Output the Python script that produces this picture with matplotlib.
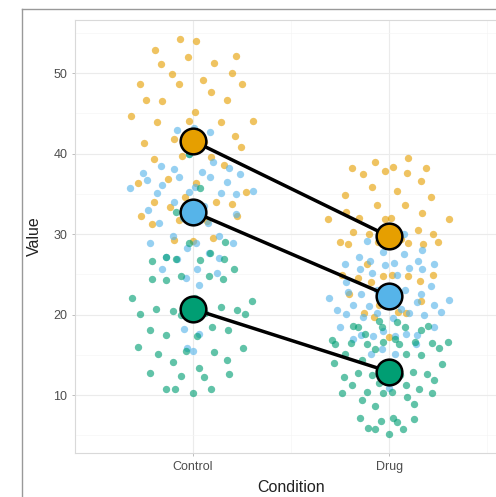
import numpy as np
import matplotlib
matplotlib.use("Agg")
import matplotlib.pyplot as plt
from matplotlib.lines import Line2D

plt.rcParams['font.family'] = ['Liberation Sans', 'DejaVu Sans']

# valeurs
conditions = ['Control', 'Drug']
groups = ['A', 'B', 'C']
colors = {'A': '#E69F00', 'B': '#56B4E9', 'C': '#009E73'}

control_a = [54.3, 54.0, 52.9, 52.0, 52.1, 51.1, 51.3, 49.9, 50.0, 48.7, 48.6, 49.1, 48.6,
             47.6, 46.7, 46.5, 46.7, 44.7, 45.2, 44.1, 43.9, 43.9, 44.1, 42.2, 41.3, 41.4,
             39.3, 39.7, 39.6, 38.6, 36.4, 36.4, 36.8, 35.2, 34.6, 34.0, 34.0, 33.7, 33.4,
             32.9, 31.7, 31.3, 31.6, 32.2, 32.3, 29.3, 29.5, 29.1, 41.8, 40.8]
control_b = [43.2, 42.9, 42.7, 40.0, 39.0, 38.5, 38.2, 38.1, 37.7, 37.6, 37.5, 37.1, 37.1,
             36.7, 36.5, 36.1, 35.9, 35.7, 35.4, 35.2, 35.1, 35.1, 35.0, 34.0, 33.5, 33.0,
             32.5, 32.0, 31.4, 31.4, 29.7, 29.7, 28.9, 28.9, 28.9, 28.3, 27.6, 27.2, 27.0,
             26.9, 25.6, 25.6, 25.2, 24.6, 23.7, 18.2, 17.6, 15.8, 15.5]
control_c = [40.0, 35.7, 33.4, 33.0, 32.7, 29.0, 28.9, 27.7, 27.2, 26.9, 26.9, 26.8, 26.7,
             25.6, 24.8, 24.8, 24.4, 24.4, 24.3, 22.0, 22.0, 21.7, 21.7, 21.0, 20.7, 20.6,
             20.5, 20.2, 20.1, 20.1, 20.0, 18.4, 18.1, 18.1, 17.4, 17.3, 16.0, 15.8, 15.5,
             15.3, 15.1, 14.4, 14.1, 13.3, 12.8, 12.6, 12.4, 12.3, 10.8, 10.7, 10.7, 10.3]
drug_a = [39.5, 39.0, 38.3, 38.2, 37.9, 37.6, 38.2, 37.5, 36.6, 35.9, 35.4, 34.9, 34.6,
          33.6, 33.6, 32.8, 32.6, 32.0, 31.9, 31.9, 32.0, 31.9, 30.5, 30.3, 30.0, 30.0,
          29.4, 29.0, 29.0, 29.0, 28.9, 28.8, 28.8, 26.3, 24.9, 24.9, 24.9, 24.8, 24.8,
          24.5, 24.2, 24.0, 22.8, 22.5, 21.7, 21.2, 20.3, 20.2, 20.2, 19.7, 17.2]
drug_b = [30.0, 29.5, 29.3, 29.2, 28.0, 27.8, 27.5, 27.2, 26.7, 26.7, 26.4, 26.3, 26.3,
          26.2, 25.8, 25.7, 25.7, 25.2, 24.9, 24.0, 23.5, 23.1, 23.0, 22.8, 22.5, 22.5,
          22.2, 22.0, 21.8, 21.6, 21.5, 21.2, 21.2, 21.1, 20.7, 20.6, 20.3, 20.2, 20.2,
          20.1, 20.0, 19.7, 19.6, 18.5, 18.4, 17.9, 17.6, 17.5, 17.5, 17.3, 17.3, 17.0,
          16.4, 15.7, 15.1, 15.1, 12.6, 12.3, 10.9]
drug_c = [19.2, 19.1, 18.6, 18.6, 18.5, 18.5, 18.5, 18.1, 17.6, 17.0, 16.9, 16.6, 16.6,
          16.6, 16.5, 16.5, 16.4, 16.4, 16.3, 15.8, 15.7, 15.1, 15.1, 15.0, 14.4, 14.1,
          14.0, 13.9, 13.8, 12.9, 12.7, 12.6, 12.5, 12.5, 12.3, 11.9, 11.5, 11.3, 11.3,
          10.7, 10.4, 10.4, 10.3, 10.2, 10.2, 9.8, 9.4, 8.9, 8.6, 7.2, 7.1, 7.0, 6.8,
          6.7, 5.9, 5.8, 5.8, 5.2]

# moyennes (gros points)
means_a = [41.6, 29.7]
means_b = [32.8, 22.3]
means_c = [20.7, 12.9]

y_ticks = [10, 20, 30, 40, 50]

data = {
    ('Control', 'A'): control_a, ('Control', 'B'): control_b, ('Control', 'C'): control_c,
    ('Drug', 'A'): drug_a, ('Drug', 'B'): drug_b, ('Drug', 'C'): drug_c,
}
means = {'A': means_a, 'B': means_b, 'C': means_c}


def van_der_corput(n, base=2):
    out = []
    for k in range(1, n + 1):
        v, denom, i = 0.0, 1.0, k
        while i > 0:
            i, rem = divmod(i, base)
            denom *= base
            v += rem / denom
        out.append(v)
    return np.array(out)


def quasirandom_offsets(y, width=0.33):
    # façon ggbeeswarm::geom_quasirandom
    y = np.asarray(y, dtype=float)
    n = len(y)
    iqr = np.subtract(*np.percentile(y, [75, 25]))
    bw = 0.9 * min(y.std(), iqr / 1.34) * n ** (-1 / 5)
    dens = np.exp(-0.5 * ((y[:, None] - y[None, :]) / bw) ** 2).sum(axis=1)
    dens = dens / dens.max()
    order = np.argsort(y)
    vdc = van_der_corput(n)
    offs = np.zeros(n)
    offs[order] = (vdc - 0.5) * 2 * dens[order] * width
    return offs


W, H = 496, 497
fig = plt.figure(figsize=(W / 100, H / 100), dpi=100)
ax = fig.add_axes([75 / W, 1 - 453 / H, (507 - 75) / W, (453 - 20) / H])

for ci, cond in enumerate(conditions):
    for g in groups:
        yv = np.array(data[(cond, g)])
        xv = ci + 1 + quasirandom_offsets(yv)
        ax.scatter(xv, yv, s=28, color=colors[g], alpha=0.62, linewidths=0, zorder=2)

for g in groups:
    ax.plot([1, 2], means[g], color='black', lw=2.5, zorder=3, solid_capstyle='butt')
    ax.plot([1, 2], means[g], linestyle='none', marker='o', markersize=18.5,
            markerfacecolor=colors[g], markeredgecolor='black', markeredgewidth=1.8, zorder=4)

ax.set_xlim(0.4, 2.6)
ax.set_ylim(2.8, 56.6)
ax.set_xticks([1, 2])
ax.set_xticklabels(conditions)
ax.set_yticks(y_ticks)
ax.set_yticks([5, 15, 25, 35, 45, 55], minor=True)
ax.set_xticks([1.5, 2.5], minor=True)
ax.grid(which='major', color='#EBEBEB', lw=0.8, zorder=0)
ax.grid(which='minor', color='#F5F5F5', lw=0.5, zorder=0)
ax.tick_params(which='major', length=2.5, width=0.6, color='#B3B3B3', labelsize=9,
               labelcolor='#4D4D4D', pad=3)
ax.tick_params(which='minor', length=0)
for s in ax.spines.values():
    s.set_color('#D9D9D9')
    s.set_linewidth(0.8)
ax.set_axisbelow(True)

ax.set_xlabel('Condition', fontsize=11.5, color='#222222', labelpad=5)
ax.set_ylabel('Value', fontsize=11.5, color='#222222', labelpad=8)

# cadre extérieur de l'image d'origine
fig.add_artist(Line2D([22 / W, 22 / W], [0, 1 - 9 / H], color='#999999', lw=1.0))
fig.add_artist(Line2D([22 / W, 1], [1 - 9 / H, 1 - 9 / H], color='#999999', lw=1.0))

fig.savefig('out.png', dpi=100)
